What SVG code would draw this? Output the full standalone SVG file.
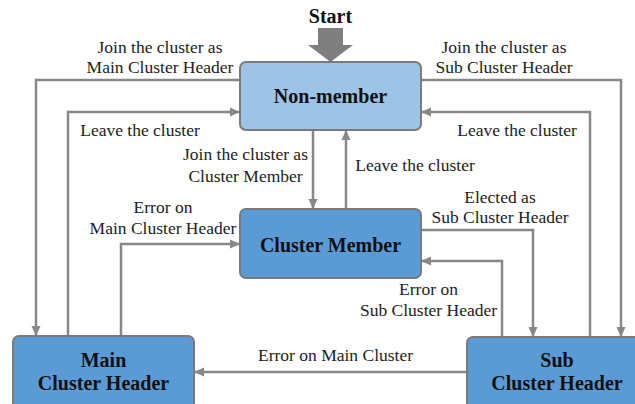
<svg xmlns="http://www.w3.org/2000/svg" width="635" height="404" viewBox="0 0 635 404">
<style>
.box{stroke:#7a7a7a;stroke-width:2}
.light{fill:#9DC3E6}
.dark{fill:#5B9BD5}
.title{font-family:"Liberation Serif","Times New Roman",serif;font-weight:bold;font-size:20px;fill:#111;text-anchor:middle}
.lbl{font-family:"Liberation Serif","Times New Roman",serif;font-size:17.5px;fill:#222;text-anchor:middle}
.conn path{fill:none;stroke:#888;stroke-width:2.5;marker-end:url(#arr)}
</style>
<defs>
<marker id="arr" markerUnits="userSpaceOnUse" markerWidth="11" markerHeight="10" refX="10" refY="5" orient="auto">
<path d="M0,0.5 L10,5 L0,9.5 z" fill="#888"/>
</marker>
</defs>
<rect width="635" height="404" fill="#fff"/>
<g id="start">
<text class="title" x="330.5" y="23">Start</text>
<polygon points="318,28 343,28 343,45 353,45 330.5,62 308,45 318,45" fill="#7f7f7f"/>
</g>
<g class="conn" id="connectors">
<path d="M240,80 H36 V336"/>
<path d="M68,336 V112 H240"/>
<path d="M121,336 V244 H240"/>
<path d="M313,130 V209"/>
<path d="M346,209 V130"/>
<path d="M421,80 H621 V337"/>
<path d="M590,337 V112 H421"/>
<path d="M421,230 H533 V337"/>
<path d="M502,337 V261 H421"/>
<path d="M467,372 H194"/>
</g>
<g id="non-member">
<rect class="box light" x="240" y="62" width="181" height="68" rx="6"/>
<text class="title" x="330.5" y="103">Non-member</text>
</g>
<g id="cluster-member">
<rect class="box dark" x="240" y="209" width="181" height="69" rx="6"/>
<text class="title" x="330.5" y="252">Cluster Member</text>
</g>
<g id="main-cluster-header">
<rect class="box dark" x="13" y="336" width="181" height="80" rx="6"/>
<text class="title" x="103.5" y="367">Main</text>
<text class="title" x="103.5" y="390">Cluster Header</text>
</g>
<g id="sub-cluster-header">
<rect class="box dark" x="467" y="337" width="181" height="80" rx="6"/>
<text class="title" x="557" y="367">Sub</text>
<text class="title" x="557" y="390">Cluster Header</text>
</g>
<g id="labels">
<text class="lbl" x="160" y="53">Join the cluster as</text>
<text class="lbl" x="160" y="73">Main Cluster Header</text>
<text class="lbl" x="504" y="53">Join the cluster as</text>
<text class="lbl" x="504" y="73">Sub Cluster Header</text>
<text class="lbl" x="140" y="136">Leave the cluster</text>
<text class="lbl" x="517" y="136">Leave the cluster</text>
<text class="lbl" x="245.5" y="160">Join the cluster as</text>
<text class="lbl" x="245.5" y="182">Cluster Member</text>
<text class="lbl" x="415" y="171">Leave the cluster</text>
<text class="lbl" x="163" y="213">Error on</text>
<text class="lbl" x="163" y="234">Main Cluster Header</text>
<text class="lbl" x="500" y="203">Elected as</text>
<text class="lbl" x="500" y="223">Sub Cluster Header</text>
<text class="lbl" x="428.5" y="295">Error on</text>
<text class="lbl" x="428.5" y="316">Sub Cluster Header</text>
<text class="lbl" x="335.5" y="361">Error on Main Cluster</text>
</g>
</svg>
